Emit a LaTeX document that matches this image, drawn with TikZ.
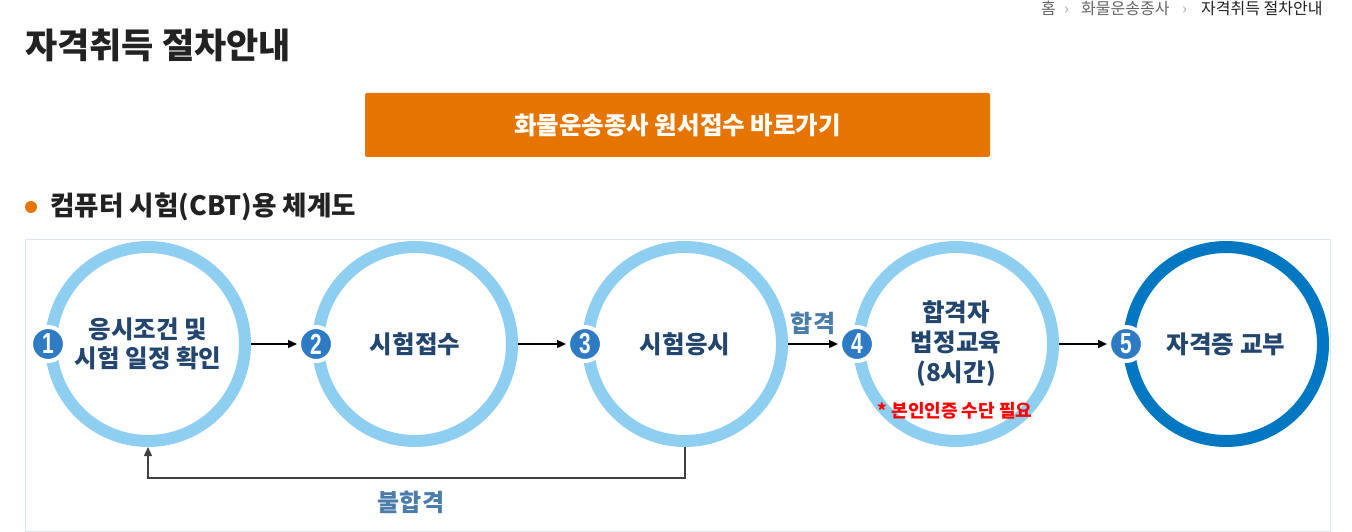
\documentclass[tikz,border=0pt]{standalone}
\usepackage{fontspec}
\setmainfont{Liberation Sans}
\newfontfamily\kr{Noto Sans CJK KR}
\newfontfamily\numf[FakeStretch=0.72]{Liberation Sans}
\usetikzlibrary{arrows.meta}
\definecolor{ringlight}{HTML}{8ECEF1}
\definecolor{ringdark}{HTML}{0078C1}
\definecolor{badgeblue}{HTML}{2E7BC3}
\definecolor{navy}{HTML}{23466E}
\definecolor{steel}{HTML}{4B7DAA}
\definecolor{btnorange}{HTML}{E67500}
\definecolor{framec}{HTML}{DDE5EE}
\definecolor{titlec}{HTML}{222222}
\definecolor{crumbgray}{HTML}{666666}
\definecolor{sepgray}{HTML}{AAAAAA}
\begin{document}
\begin{tikzpicture}[x=1pt,y=-1pt,
  ring/.style={circle, draw=ringlight, line width=12pt, minimum size=194pt, inner sep=0pt,
    fill=white, text=navy, align=center, font=\kr\bfseries\fontsize{24.5}{29}\selectfont},
  ringend/.style={ring, draw=ringdark},
  badge/.style={circle, fill=badgeblue, draw=white, line width=4pt, minimum size=34pt,
    inner sep=0pt, text=white, font=\numf\bfseries\fontsize{29}{29}\selectfont},
  arr/.style={-{Triangle[length=9pt,width=8pt]}, line width=1.3pt, black},
  back/.style={-{Triangle[length=9pt,width=8pt]}, line width=1.3pt, black!75},
  lbl/.style={text=steel, font=\kr\bfseries\fontsize{24}{26}\selectfont},
  crumb/.style={anchor=base west, inner sep=0pt, font=\kr\fontsize{16}{18}\selectfont},
]
\useasboundingbox (0,0) rectangle (1352,532);
\fill[white] (0,0) rectangle (1352,532);

% breadcrumb
\node[crumb, text=crumbgray] (bc1) at (1041,15) {홈};
\node[crumb, text=sepgray] (bs1) at (1064,15) {›};
\node[crumb, text=crumbgray] (bc2) at (1081,15) {화물운송종사};
\node[crumb, text=sepgray] (bs2) at (1182,15) {›};
\node[crumb, text=titlec] (bc3) at (1201,15) {자격취득 절차안내};

% title
\node[anchor=base west, inner sep=0pt, text=titlec, font=\kr\bfseries\fontsize{35}{40}\selectfont]
  (title) at (25,59) {자격취득 절차안내};

% button
\node[fill=btnorange, rounded corners=2pt, minimum width=625pt, minimum height=64pt,
  inner sep=0pt, text=white, font=\kr\bfseries\fontsize{24.5}{28}\selectfont]
  (btn) at (677.5,125) {화물운송종사 원서접수 바로가기};

% heading
\fill[btnorange] (31,207) circle (6);
\node[anchor=base west, inner sep=0pt, text=titlec, font=\kr\bfseries\fontsize{26.6}{30}\selectfont]
  (head) at (50,215) {컴퓨터 시험(CBT)용 체계도};

% frame
\draw[framec, line width=1pt] (25.5,239.5) rectangle (1330.5,531.5);

% circles
\node[ring] (c1) at (148,344) {응시조건 및\\시험 일정 확인};
\node[ring] (c2) at (415,344) {시험접수};
\node[ring] (c3) at (685,344) {시험응시};
\node[ring, font=\kr\bfseries\fontsize{24.5}{30}\selectfont] (c4) at (956,344) {합격자\\법정교육\\(8시간)};
\node[ringend] (c5) at (1226,344) {자격증 교부};

% badges
\node[badge] (b1) at (48,344) {1};
\node[badge] (b2) at (316,344) {2};
\node[badge] (b3) at (585,344) {3};
\node[badge] (b4) at (857,344) {4};
\node[badge] (b5) at (1126,344) {5};

% note
\node[text=red, font=\kr\bfseries\fontsize{18}{20}\selectfont] (note) at (955,411) {* 본인인증 수단 필요};

% arrows
\draw[arr] (c1.east) -- (b2.west);
\draw[arr] (c2.east) -- (b3.west);
\draw[arr] (c3.east) -- node[lbl, above=5pt] (pass) {합격} (b4.west);
\draw[arr] (c4.east) -- (b5.west);

% feedback
\coordinate (f3) at (685,478);
\coordinate (f1) at (148,478);
\draw[back] (c3.south) -- (f3) -- (f1) -- (c1.south);
\node[lbl] (fail) at (411,502) {불합격};
\end{tikzpicture}
\end{document}
